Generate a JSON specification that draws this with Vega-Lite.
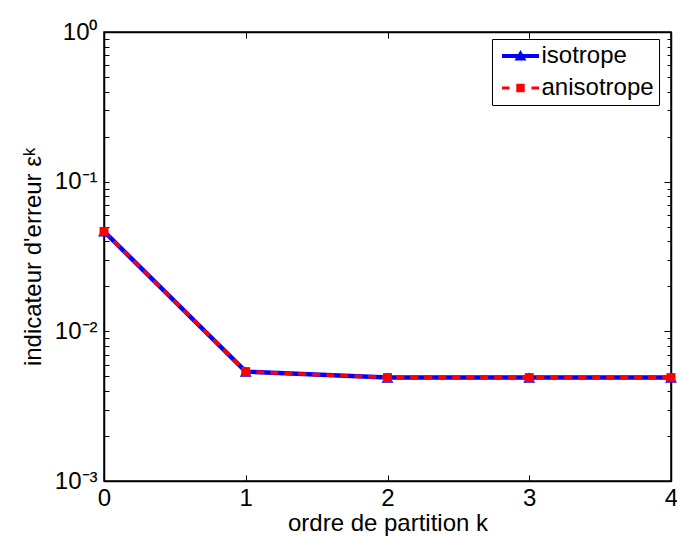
{
  "$schema": "https://vega.github.io/schema/vega-lite/v6.json",
  "width": 567,
  "height": 449,
  "autosize": "none",
  "padding": {"left": 104, "top": 32, "right": 6, "bottom": 55},
  "background": "white",
  "config": {
    "font": "Liberation Sans",
    "view": {"stroke": "black", "strokeWidth": 1.5},
    "axis": {
      "grid": false,
      "domainColor": "black",
      "domainWidth": 1.5,
      "tickColor": "black",
      "tickWidth": 1,
      "labelColor": "black",
      "labelFont": "Liberation Sans",
      "labelFontSize": 24,
      "titleFont": "Liberation Sans",
      "titleFontSize": 24,
      "titleFontWeight": "normal",
      "titleColor": "black"
    }
  },
  "data": {
    "values": [
      {"series": "isotrope", "k": 0, "e": 0.0465},
      {"series": "isotrope", "k": 1, "e": 0.00538},
      {"series": "isotrope", "k": 2, "e": 0.00491},
      {"series": "isotrope", "k": 3, "e": 0.00491},
      {"series": "isotrope", "k": 4, "e": 0.00491},
      {"series": "anisotrope", "k": 0, "e": 0.0465},
      {"series": "anisotrope", "k": 1, "e": 0.00538},
      {"series": "anisotrope", "k": 2, "e": 0.00491},
      {"series": "anisotrope", "k": 3, "e": 0.00491},
      {"series": "anisotrope", "k": 4, "e": 0.00491}
    ]
  },
  "layer": [
    {
      "transform": [{"filter": "datum.series == 'isotrope'"}],
      "mark": {"type": "line", "color": "#0000ff", "strokeWidth": 4.5},
      "encoding": {
        "x": {
          "field": "k", "type": "quantitative",
          "scale": {"domain": [0, 4], "nice": false, "zero": false},
          "axis": {
            "orient": "bottom",
            "values": [0, 1, 2, 3, 4],
            "format": "d",
            "labelFlush": false,
            "tickSize": -6,
            "labelPadding": 11,
            "title": "ordre de partition k",
            "titlePadding": 1
          }
        },
        "y": {
          "field": "e", "type": "quantitative",
          "scale": {"type": "log", "domain": [0.001, 1], "nice": false},
          "axis": {
            "orient": "left",
            "values": [0.001, 0.002, 0.003, 0.004, 0.005, 0.006, 0.007, 0.008, 0.009, 0.01, 0.02, 0.03, 0.04, 0.05, 0.06, 0.07, 0.08, 0.09, 0.1, 0.2, 0.3, 0.4, 0.5, 0.6, 0.7, 0.8, 0.9, 1],
            "labelExpr": "datum.value == 1 ? '10⁰' : abs(datum.value - 0.1) < 1e-9 ? '10⁻¹' : abs(datum.value - 0.01) < 1e-10 ? '10⁻²' : abs(datum.value - 0.001) < 1e-11 ? '10⁻³' : ''",
            "tickSize": -5,
            "labelPadding": 12,
            "labelFlush": false,
            "labelOverlap": false,
            "title": "indicateur d'erreur εᵏ",
            "titlePadding": 9
          }
        }
      }
    },
    {
      "transform": [{"filter": "datum.series == 'anisotrope'"}],
      "mark": {"type": "line", "color": "#ff0000", "strokeWidth": 3.5, "strokeDash": [8, 6]},
      "encoding": {
        "x": {"field": "k", "type": "quantitative", "axis": null},
        "y": {"field": "e", "type": "quantitative", "axis": null}
      }
    },
    {
      "transform": [{"filter": "datum.series == 'isotrope'"}],
      "mark": {"type": "point", "shape": "triangle-up", "filled": true, "opacity": 1, "color": "#0000ff", "size": 140},
      "encoding": {
        "x": {
          "field": "k", "type": "quantitative",
          "axis": {"orient": "top", "values": [0, 1, 2, 3, 4], "labels": false, "tickSize": -6, "title": null}
        },
        "y": {
          "field": "e", "type": "quantitative",
          "axis": {
            "orient": "right",
            "values": [0.001, 0.002, 0.003, 0.004, 0.005, 0.006, 0.007, 0.008, 0.009, 0.01, 0.02, 0.03, 0.04, 0.05, 0.06, 0.07, 0.08, 0.09, 0.1, 0.2, 0.3, 0.4, 0.5, 0.6, 0.7, 0.8, 0.9, 1],
            "labels": false,
            "tickSize": {"condition": {"test": "indexof([1, 0.1, 0.01, 0.001], datum.value) >= 0", "value": -7}, "value": -4},
            "title": null
          }
        }
      }
    },
    {
      "transform": [{"filter": "datum.series == 'anisotrope'"}],
      "mark": {"type": "point", "shape": "square", "filled": true, "opacity": 1, "color": "#ff0000", "size": 80},
      "encoding": {
        "x": {"field": "k", "type": "quantitative", "axis": null},
        "y": {"field": "e", "type": "quantitative", "axis": null}
      }
    },
    {
      "transform": [{"filter": "datum.k < 0"}],
      "mark": {"type": "point", "filled": true, "opacity": 1},
      "encoding": {
        "x": {"field": "k", "type": "quantitative", "axis": null},
        "y": {"field": "e", "type": "quantitative", "axis": null},
        "color": {
          "field": "series", "type": "nominal",
          "scale": {"domain": ["isotrope", "anisotrope"], "range": ["#0000ff", "#ff0000"]},
          "legend": {
            "title": null, "orient": "none", "legendX": 388, "legendY": 7,
            "symbolSize": 400, "symbolStrokeWidth": 0, "symbolOpacity": 1,
            "labelFontSize": 24, "labelColor": "black", "labelFont": "Liberation Sans",
            "strokeColor": "black", "fillColor": "white",
            "padding": 5, "rowPadding": 8, "symbolOffset": 11.5, "labelOffset": 9
          }
        },
        "shape": {
          "field": "series", "type": "nominal",
          "scale": {
            "domain": ["isotrope", "anisotrope"],
            "range": [
              "M-1.85,-0.2H1.85V0.2H-1.85Z M-0.6,0.45L0,-0.6L0.6,0.45Z",
              "M-1.85,-0.16H-1.1V0.16H-1.85Z M-0.42,-0.42H0.42V0.42H-0.42Z M1.1,-0.16H1.85V0.16H1.1Z"
            ]
          },
          "legend": {
            "title": null, "orient": "none", "legendX": 388, "legendY": 7,
            "symbolSize": 400, "symbolStrokeWidth": 0, "symbolOpacity": 1,
            "labelFontSize": 24, "labelColor": "black", "labelFont": "Liberation Sans",
            "strokeColor": "black", "fillColor": "white",
            "padding": 5, "rowPadding": 8, "symbolOffset": 11.5, "labelOffset": 9
          }
        }
      }
    }
  ],
  "resolve": {
    "axis": {"x": "independent", "y": "independent"}
  }
}
